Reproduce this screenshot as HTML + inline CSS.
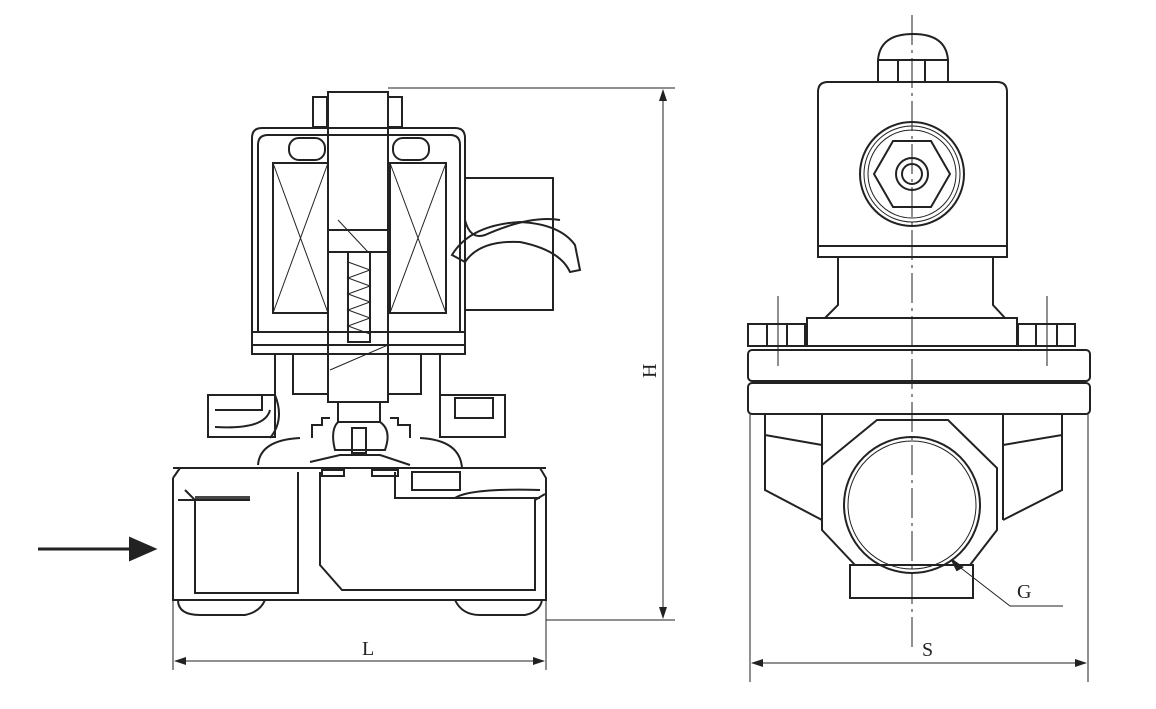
<!DOCTYPE html>
<html><head><meta charset="utf-8"><style>
html,body{margin:0;padding:0;background:#fff}
svg{display:block}
text{font-family:"Liberation Serif",serif;font-size:20px;fill:#222}
</style></head><body>
<svg width="1156" height="709" viewBox="0 0 1156 709" xmlns="http://www.w3.org/2000/svg">
<defs><marker id="ah" markerWidth="12" markerHeight="8" refX="11" refY="4" orient="auto-start-reverse" markerUnits="userSpaceOnUse"><path d="M0,0 L12,4 L0,8 z" fill="#222"/></marker></defs>
<g fill="none" stroke="#222" stroke-width="2">
<!-- LEFT VIEW -->
<!-- inlet arrow -->
<line x1="38" y1="549" x2="135" y2="549" stroke-width="3"/>
<path d="M130,538 L155,549 L130,560 z" fill="#222"/>
<!-- stem & ears -->
<rect x="313" y="97" width="14" height="30"/>
<rect x="388" y="97" width="14" height="30"/>
<rect x="328" y="92" width="60" height="310"/>
<!-- coil housing -->
<path d="M252,345 L252,138 Q252,128 262,128 L455,128 Q465,128 465,138 L465,345 Z"/>
<path d="M258,332 L258,145 Q258,135 268,135 L450,135 Q460,135 460,145 L460,332 Z"/>
<rect x="289" y="138" width="36" height="22" rx="10"/>
<rect x="393" y="138" width="36" height="22" rx="10"/>
<rect x="273" y="163" width="55" height="150"/>
<line x1="273" y1="163" x2="328" y2="313" stroke-width="1"/><line x1="328" y1="163" x2="273" y2="313" stroke-width="1"/>
<rect x="390" y="163" width="56" height="150"/>
<line x1="390" y1="163" x2="446" y2="313" stroke-width="1"/><line x1="446" y1="163" x2="390" y2="313" stroke-width="1"/>
<!-- plunger / spring -->
<line x1="328" y1="230" x2="388" y2="230"/><line x1="328" y1="252" x2="388" y2="252"/>
<line x1="338" y1="220" x2="368" y2="252" stroke-width="1"/>
<rect x="348" y="252" width="22" height="90"/>
<polyline points="348,262 370,270 348,278 370,286 348,294 370,302 348,310 370,318 348,326 370,334" stroke-width="1"/>
<line x1="330" y1="370" x2="388" y2="345" stroke-width="1"/>
<!-- connector box & cable -->
<path d="M465,178 L553,178 L553,310 L465,310"/>
<path d="M465,220 Q470,240 485,235 Q530,215 560,220"/>
<path d="M452,255 Q470,225 520,222 Q560,224 575,245 L580,270 L570,272 Q560,250 520,242 Q480,240 465,262 Z"/>
<!-- bonnet -->
<rect x="252" y="332" width="213" height="22"/>
<path d="M275,354 L275,395 Q285,420 270,438 M440,354 L440,395 L440,438"/>
<rect x="293" y="354" width="35" height="40"/>
<rect x="388" y="354" width="33" height="40"/>
<rect x="338" y="402" width="42" height="20"/>
<path d="M312,438 L312,425 L322,425 L322,418 L330,418 M390,418 L398,418 L398,425 L410,425 L410,438"/>
<path d="M338,422 Q330,430 335,450 L385,450 Q392,430 380,422"/>
<rect x="352" y="428" width="14" height="25"/>
<path d="M258,465 Q260,440 300,438 M420,438 Q460,440 462,468"/>
<path d="M310,462 L340,455 L380,455 L410,465"/>
<!-- side lugs -->
<rect x="208" y="395" width="67" height="42"/>
<path d="M215,410 L262,410 L262,395 M215,427 Q265,430 270,410"/>
<rect x="440" y="395" width="65" height="42"/>
<rect x="455" y="398" width="38" height="20"/>
<!-- body -->
<line x1="173" y1="468" x2="546" y2="468"/>
<path d="M173,478 L173,600 L546,600 L546,478 L540,468 M173,478 L180,468"/>
<path d="M185,490 L195,500 L195,593 L298,593 L298,472"/>
<rect x="195" y="496" width="55" height="5" fill="#444" stroke="none"/>
<line x1="178" y1="500" x2="250" y2="500"/>
<path d="M320,472 L320,565 L342,590 L535,590 L535,500 L545,494"/>
<path d="M395,472 L395,498 L540,498"/>
<path d="M455,498 Q470,488 540,490"/>
<rect x="412" y="472" width="48" height="18"/>
<rect x="322" y="470" width="22" height="6"/>
<rect x="372" y="470" width="26" height="6"/>
<!-- feet -->
<path d="M178,600 Q178,615 200,615 L245,615 Q260,612 265,600"/>
<path d="M455,600 Q462,615 480,615 L525,615 Q540,612 542,600"/>
<!-- H dimension -->
<line x1="388" y1="88" x2="675" y2="88" stroke-width="1"/>
<line x1="546" y1="620" x2="675" y2="620" stroke-width="1"/>
<line x1="663" y1="90" x2="663" y2="618" stroke-width="1" marker-start="url(#ah)" marker-end="url(#ah)"/>
<!-- L dimension -->
<line x1="173" y1="600" x2="173" y2="670" stroke-width="1"/>
<line x1="546" y1="600" x2="546" y2="670" stroke-width="1"/>
<line x1="175" y1="661" x2="544" y2="661" stroke-width="1" marker-start="url(#ah)" marker-end="url(#ah)"/>

<!-- RIGHT VIEW -->
<line x1="912" y1="15" x2="912" y2="652" stroke-width="1" stroke-dasharray="30,5,3,5"/>
<path d="M878,82 L878,60 Q880,34 913,34 Q946,34 948,60 L948,82"/>
<line x1="878" y1="60" x2="948" y2="60"/>
<line x1="898" y1="60" x2="898" y2="82"/><line x1="925" y1="60" x2="925" y2="82"/>
<path d="M818,257 L818,92 Q818,82 828,82 L997,82 Q1007,82 1007,92 L1007,257 Z"/>
<line x1="818" y1="246" x2="1007" y2="246"/>
<circle cx="912" cy="174" r="52"/><circle cx="912" cy="174" r="48" stroke-width="1"/><circle cx="912" cy="174" r="44" stroke-width="1"/>
<polygon points="874,174 893,141 931,141 950,174 931,207 893,207"/>
<circle cx="912" cy="174" r="16"/><circle cx="912" cy="174" r="10"/>
<path d="M838,257 L838,305 L825,318 M993,257 L993,305 L1005,318"/>
<rect x="807" y="318" width="210" height="28"/>
<rect x="748" y="324" width="57" height="22"/>
<line x1="767" y1="324" x2="767" y2="346"/><line x1="787" y1="324" x2="787" y2="346"/>
<rect x="1018" y="324" width="57" height="22"/>
<line x1="1036" y1="324" x2="1036" y2="346"/><line x1="1057" y1="324" x2="1057" y2="346"/>
<line x1="778" y1="296" x2="778" y2="366" stroke-width="1"/>
<line x1="1047" y1="296" x2="1047" y2="366" stroke-width="1"/>
<rect x="748" y="350" width="342" height="31" rx="4"/>
<rect x="748" y="383" width="342" height="31" rx="4"/>
<line x1="750" y1="414" x2="750" y2="682" stroke-width="1"/>
<line x1="1088" y1="414" x2="1088" y2="682" stroke-width="1"/>
<path d="M765,414 L765,490 L822,520 M822,414 L822,520 M765,435 L822,445"/>
<path d="M1062,414 L1062,490 L1003,520 M1003,414 L1003,520 M1062,435 L1003,445"/>
<polygon points="822,465 877,420 948,420 997,468 997,530 970,565 855,565 822,530"/>
<rect x="850" y="565" width="123" height="33"/>
<circle cx="912" cy="505" r="68"/><circle cx="912" cy="505" r="64" stroke-width="1"/>
<polyline points="957,565 1010,606 1063,606" stroke-width="1"/>
<path d="M952,560 L962,567 L957,570 z" fill="#222"/>
<line x1="752" y1="663" x2="1086" y2="663" stroke-width="1" marker-start="url(#ah)" marker-end="url(#ah)"/>
</g>
<text x="362" y="655">L</text>
<text x="640" y="378" transform="rotate(-90 648 370)">H</text>
<text x="922" y="656">S</text>
<text x="1017" y="598">G</text>
</svg>
</body></html>
